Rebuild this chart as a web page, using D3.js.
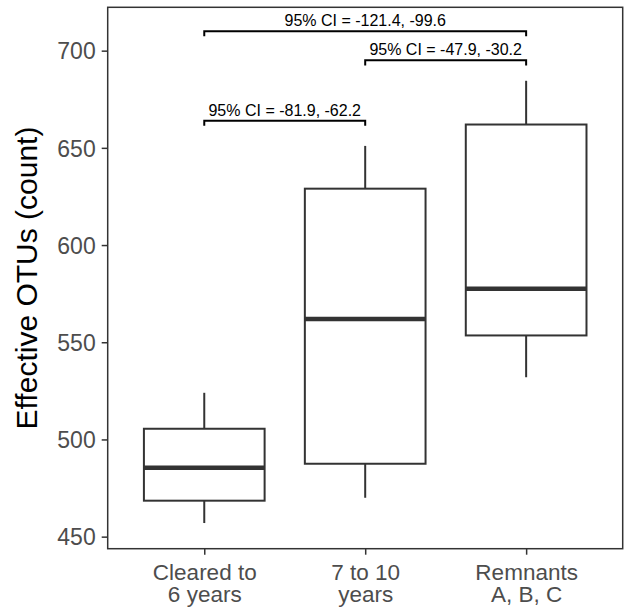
<!DOCTYPE html>
<html>
<head>
<meta charset="utf-8">
<script src="https://cdn.jsdelivr.net/npm/d3@7"></script>
<style>
  body { margin: 0; background: #fff; }
  text { font-family: "Liberation Sans", Arial, sans-serif; }
</style>
</head>
<body>
<svg id="chart" width="627" height="611"></svg>
<script>
// data
const categories = ["Cleared to 6 years", "7 to 10 years", "Remnants A, B, C"];
const categoryLines = [["Cleared to", "6 years"], ["7 to 10", "years"], ["Remnants", "A, B, C"]];
const lowerWhisker = [457, 470, 532];
const q1 = [468.5, 487.5, 553.5];
const median = [485.5, 562, 577.5];
const q3 = [505.5, 629, 662];
const upperWhisker = [524, 651, 684.5];

const yTicks = [450, 500, 550, 600, 650, 700];

const comparisons = [[0, 1], [1, 2], [0, 2]];
const bracketY = [664, 695, 710];
const ciLabels = ["95% CI = -81.9, -62.2", "95% CI = -47.9, -30.2", "95% CI = -121.4, -99.6"];

const svg = d3.select("#chart");
const margin = { top: 7.3, left: 107.7, right: 4.3, bottom: 62.3 };
const innerWidth = +svg.attr("width") - margin.left - margin.right;
const innerHeight = +svg.attr("height") - margin.top - margin.bottom;

const g = svg.append("g").attr("transform", `translate(${margin.left},${margin.top})`);

const x = d3.scalePoint()
    .domain(categories)
    .range([0, innerWidth])
    .padding(0.6);

const y = d3.scaleLinear()
    .domain([443.8, 722.3])
    .range([innerHeight, 0]);

const boxW = x.step() * 0.75;
const dark = "#333333";

// axes
const yAxis = g.append("g")
    .call(d3.axisLeft(y).tickValues(yTicks).tickSize(6).tickPadding(6).tickSizeOuter(0));
yAxis.select(".domain").remove();
yAxis.selectAll(".tick line").attr("stroke", dark).attr("stroke-width", 1.5);
yAxis.selectAll(".tick text").attr("fill", "#4d4d4d").style("font-size", "23px").attr("dy", "0.36em");

const xAxis = g.append("g")
    .attr("transform", `translate(0,${innerHeight})`)
    .call(d3.axisBottom(x).tickSize(6).tickSizeOuter(0));
xAxis.select(".domain").remove();
xAxis.selectAll(".tick text").remove(); // replaced by two-line labels below
xAxis.selectAll(".tick line").attr("stroke", dark).attr("stroke-width", 1.5);

xAxis.selectAll(".tick").each(function (d, i) {
    const t = d3.select(this).append("text")
        .attr("fill", "#4d4d4d")
        .attr("text-anchor", "middle")
        .style("font-size", "22.5px");
    categoryLines[i].forEach((line, j) => {
        t.append("tspan").attr("x", 0).attr("y", 31 + j * 22.5).text(line);
    });
});

// boxes
const boxes = g.selectAll(".box")
    .data(categories)
    .enter()
    .append("g")
    .attr("class", "box");

boxes.append("line")
    .attr("x1", d => x(d)).attr("x2", d => x(d))
    .attr("y1", (d, i) => y(upperWhisker[i])).attr("y2", (d, i) => y(q3[i]))
    .attr("stroke", dark).attr("stroke-width", 2);

boxes.append("line")
    .attr("x1", d => x(d)).attr("x2", d => x(d))
    .attr("y1", (d, i) => y(q1[i])).attr("y2", (d, i) => y(lowerWhisker[i]))
    .attr("stroke", dark).attr("stroke-width", 2);

boxes.append("rect")
    .attr("x", d => x(d) - boxW / 2)
    .attr("width", boxW)
    .attr("y", (d, i) => y(q3[i]))
    .attr("height", (d, i) => y(q1[i]) - y(q3[i]))
    .attr("fill", "#fff")
    .attr("stroke", dark)
    .attr("stroke-width", 2);

boxes.append("line")
    .attr("x1", d => x(d) - boxW / 2).attr("x2", d => x(d) + boxW / 2)
    .attr("y1", (d, i) => y(median[i])).attr("y2", (d, i) => y(median[i]))
    .attr("stroke", dark).attr("stroke-width", 4.5);

// significance brackets
const tickLen = 2.6;
comparisons.forEach((c, i) => {
    const x1 = x(categories[c[0]]);
    const x2 = x(categories[c[1]]);
    const yy = bracketY[i];
    g.append("path")
        .attr("d", d3.line()([[x1, y(yy - tickLen)], [x1, y(yy)], [x2, y(yy)], [x2, y(yy - tickLen)]]))
        .attr("fill", "none")
        .attr("stroke", "#000")
        .attr("stroke-width", 2);
    g.append("text")
        .attr("x", (x1 + x2) / 2)
        .attr("y", y(yy) - 5)
        .attr("text-anchor", "middle")
        .style("font-size", "16px")
        .attr("fill", "#000")
        .text(ciLabels[i]);
});

// panel border
g.append("rect")
    .attr("width", innerWidth)
    .attr("height", innerHeight)
    .attr("fill", "none")
    .attr("stroke", dark)
    .attr("stroke-width", 1.5);

// y title
svg.append("text")
    .attr("transform", `translate(37,${margin.top + innerHeight / 2}) rotate(-90)`)
    .attr("text-anchor", "middle")
    .style("font-size", "30px")
    .attr("fill", "#000")
    .text("Effective OTUs (count)");
</script>
</body>
</html>
